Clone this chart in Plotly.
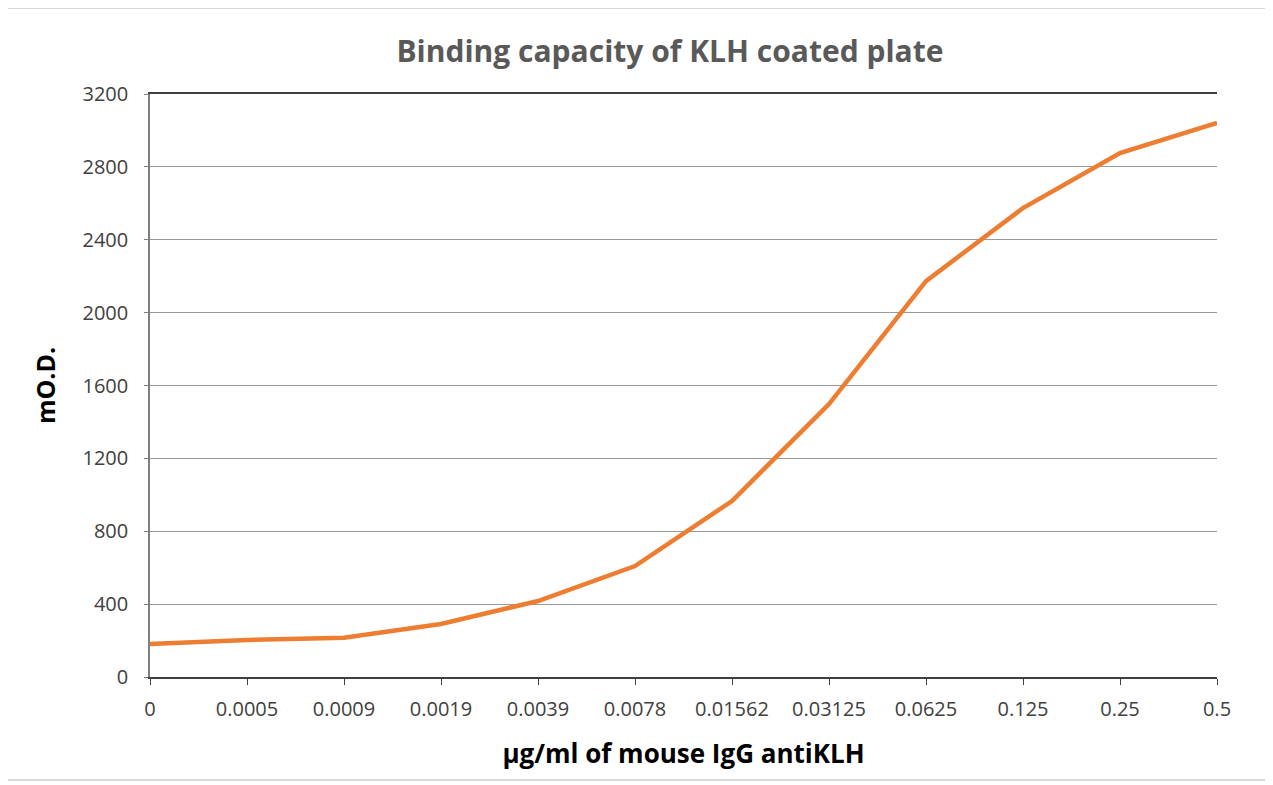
import plotly.graph_objects as go

concentrations = ["0", "0.0005", "0.0009", "0.0019", "0.0039", "0.0078",
                  "0.01562", "0.03125", "0.0625", "0.125", "0.25", "0.5"]
mod_values = [181, 203, 215, 291, 417, 609, 966, 1498, 2173, 2574, 2876, 3042]
y_ticks = [0, 400, 800, 1200, 1600, 2000, 2400, 2800, 3200]

FONT = "Open Sans"

fig = go.Figure()
fig.add_trace(go.Scatter(
    x=concentrations, y=mod_values, mode="lines",
    line=dict(color="#ED7D31", width=4.5),
    hoverinfo="x+y", showlegend=False,
))

fig.update_layout(
    width=1273, height=785,
    margin=dict(l=142, r=64, t=86, b=116),
    paper_bgcolor="white", plot_bgcolor="white",
    font=dict(family=FONT, color="#404040"),
    title=dict(text="<b>Binding capacity of KLH coated plate</b>",
               x=0.520, xanchor="center", y=0.944, yanchor="middle",
               font=dict(family=FONT, size=30, color="#595959")),
    xaxis=dict(
        type="category", range=[0, len(concentrations) - 1],
        showgrid=False, showline=True, linecolor="#404040", linewidth=2,
        mirror=True, ticks="outside", ticklen=6, tickcolor="#404040",
        ticklabelstandoff=7,
        tickfont=dict(family=FONT, size=20, color="#404040"),
        title=dict(text="<b>µg/ml of mouse IgG antiKLH</b>", standoff=24,
                   font=dict(family=FONT, size=26, color="#000000")),
        zeroline=False,
    ),
    yaxis=dict(
        range=[0, 3200], tickvals=y_ticks, ticktext=[str(v) for v in y_ticks],
        showgrid=True, gridcolor="#999999", gridwidth=1.3,
        showline=True, linecolor="#7f7f7f", linewidth=1.5,
        ticks="outside", ticklen=4, tickcolor="#7f7f7f",
        ticklabelstandoff=12,
        tickfont=dict(family=FONT, size=20, color="#404040"),
        title=dict(text="<b>mO.D.</b>", standoff=20,
                   font=dict(family=FONT, size=25, color="#000000")),
        zeroline=False,
    ),
)

# outer chart frame
fig.add_shape(type="rect", xref="paper", yref="paper",
              x0=-144 / 1067, x1=1 + 51 / 1067, y0=-103 / 583, y1=1 + 86 / 583,
              line=dict(color="#d9d9d9", width=2), fillcolor="rgba(0,0,0,0)",
              layer="below")

fig.write_html("out.html")
